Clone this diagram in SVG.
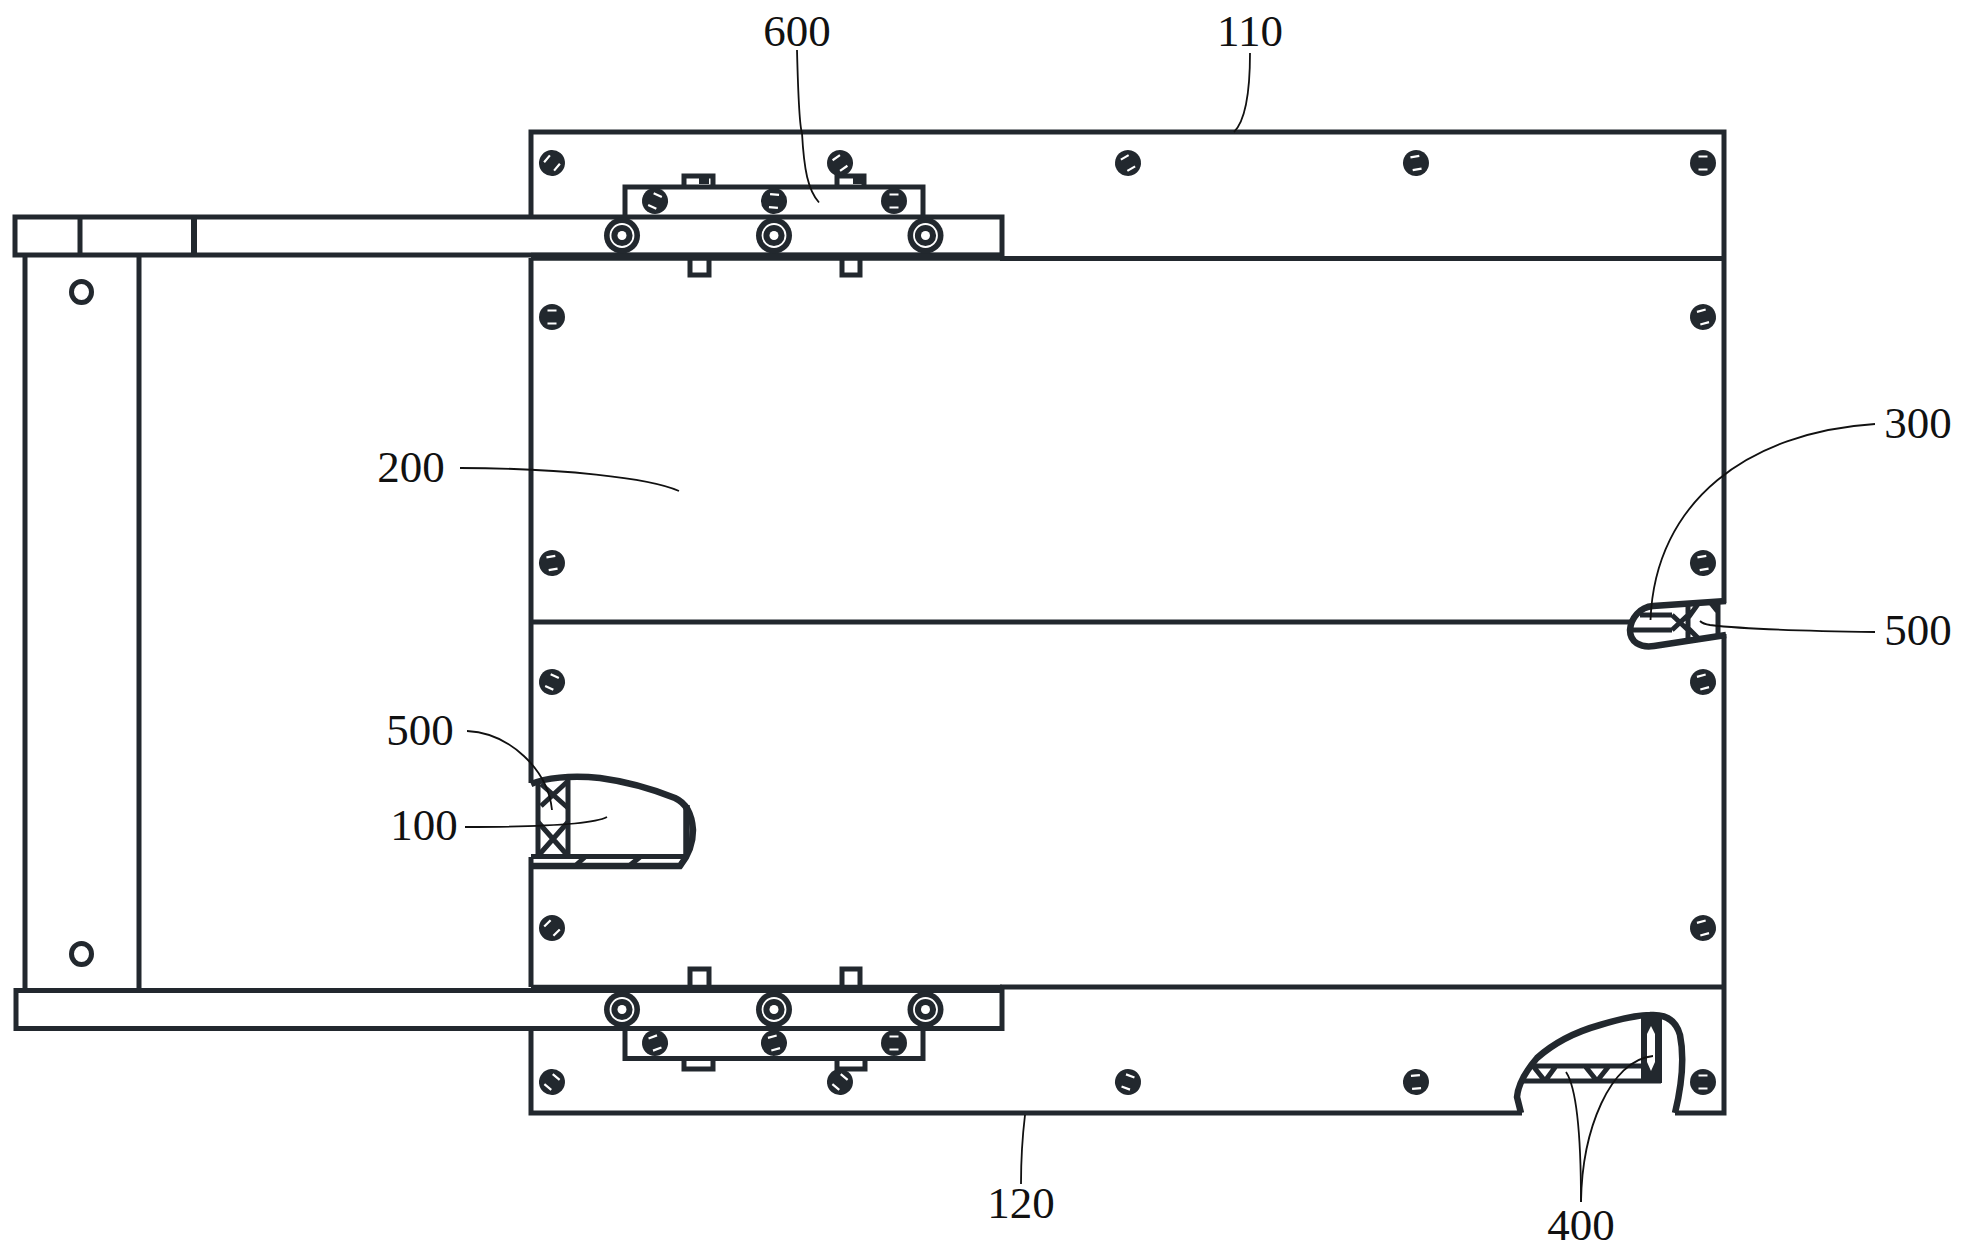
<svg xmlns="http://www.w3.org/2000/svg" width="1965" height="1254" viewBox="0 0 1965 1254">
<style>
.l{fill:none;stroke:#22282e;stroke-width:5}
.o{fill:none;stroke:#22282e;stroke-width:6.500}
.t{fill:none;stroke:#22282e;stroke-width:8}
.k{fill:none;stroke:#111;stroke-width:1.800}
.n{font-family:"Liberation Serif",serif;font-size:45px;fill:#111;text-anchor:middle}
</style>
<defs>
<g id="screw"><circle r="13" fill="#22282e"/><path d="M-4.500-6.500H4.500M-4.500 6.500H4.500" stroke="#fff" stroke-width="2.200" fill="none"/></g>
<g id="roller"><circle r="18" fill="#22282e"/><circle r="11.500" fill="none" stroke="#fff" stroke-width="1.800"/><circle r="4.500" fill="#fff"/></g>
</defs>
<rect width="1965" height="1254" fill="#fff"/>
<g id="plates">
<path class="l" d="M531 217V132H1724V603M531 258V783M1724 634V1113H1675M1522 1113H531V1028M531 857V987"/>
<path class="l" d="M1000 258.500H1724M1000 987H1724"/>
<path class="t" d="M531 256.700H1002M531 988.800H1002"/>
<path class="l" d="M531 622H1632"/>
</g>
<g id="rail-top"><path class="l" d="M15 217H1002V255H15ZM80 217V255"/><path class="l" style="stroke-width:6" d="M194 217V255"/></g>
<g id="rail-bottom"><path class="l" d="M16 990.500H1002V1028.500H16Z"/></g>
<g id="frame"><path class="l" d="M25 255V990M139 255V990"/>
<ellipse class="l" cx="81.500" cy="292" rx="10" ry="10.500"/><ellipse class="l" cx="81.500" cy="954" rx="10" ry="10.500"/></g>
<g id="carriage-top"><path class="l" d="M625 217V187H923V217M684 187V176H713V187M837 187V176H864V187"/>
<path class="l" d="M690 258V275H709V258M842 258V275H860V258"/>
<rect x="699" y="178" width="10" height="6" fill="#22282e"/><rect x="853" y="176" width="12" height="8" fill="#22282e"/></g>
<g id="carriage-bottom"><path class="l" d="M625 1028V1058.500H923V1028M684 1058V1069H713V1058M837 1058V1069H865V1058"/>
<path class="l" d="M690 988V969H709V988M842 988V969H860V988"/></g>
<g id="screws">
<use href="#screw" transform="translate(552 163) rotate(-50)"/>
<use href="#screw" transform="translate(840 163) rotate(-35)"/>
<use href="#screw" transform="translate(1128 163) rotate(-30)"/>
<use href="#screw" transform="translate(1416 163) rotate(-10)"/>
<use href="#screw" transform="translate(1703 163) rotate(0)"/>
<use href="#screw" transform="translate(552 317) rotate(0)"/>
<use href="#screw" transform="translate(1703 317) rotate(-15)"/>
<use href="#screw" transform="translate(552 563) rotate(-10)"/>
<use href="#screw" transform="translate(1703 563) rotate(-10)"/>
<use href="#screw" transform="translate(552 682) rotate(25)"/>
<use href="#screw" transform="translate(1703 682) rotate(-15)"/>
<use href="#screw" transform="translate(552 928) rotate(-45)"/>
<use href="#screw" transform="translate(1703 928) rotate(-15)"/>
<use href="#screw" transform="translate(552 1082) rotate(40)"/>
<use href="#screw" transform="translate(840 1082) rotate(40)"/>
<use href="#screw" transform="translate(1128 1082) rotate(20)"/>
<use href="#screw" transform="translate(1416 1082) rotate(-5)"/>
<use href="#screw" transform="translate(1703 1082) rotate(0)"/>
<use href="#screw" transform="translate(655 201) rotate(25)"/>
<use href="#screw" transform="translate(774 201) rotate(5)"/>
<use href="#screw" transform="translate(894 201) rotate(0)"/>
<use href="#screw" transform="translate(655 1043) rotate(-20)"/>
<use href="#screw" transform="translate(774 1043) rotate(-15)"/>
<use href="#screw" transform="translate(894 1043) rotate(0)"/>
</g>
<g id="rollers">
<use href="#roller" x="622" y="235.500"/><use href="#roller" x="774" y="235.500"/><use href="#roller" x="925.500" y="235.500"/>
<use href="#roller" x="622" y="1009.500"/><use href="#roller" x="774" y="1009.500"/><use href="#roller" x="925.500" y="1009.500"/>
</g>
<g id="part-100">
<path class="o" d="M531 784C545 778 570 775 600 778C630 782 660 792 675 798C686 803 692 815 693 830C693 845 688 856 680 866H533"/>
<path class="l" d="M531 856.500H686M538 783V856M568 779V856"/>
<path class="o" d="M686.500 805V856"/>
<path class="l" d="M538 856L568 822M538 822L568 856M541 784L568 808M568 781L541 806M575 866L585 857M629 866L640 857"/>
</g>
<g id="part-300-500">
<path class="o" d="M1726 601L1653 606C1640 607 1631 618 1630 630C1630 642 1640 648 1654 646L1726 635"/>
<path class="l" d="M1718 601V635M1688 603V641M1640 615H1672M1630 630H1672M1672 615L1688 630M1672 630L1688 615M1688 618L1698 604M1688 628L1698 638M1710 602L1718 612"/>
</g>
<g id="part-400">
<path class="o" d="M1521 1113L1517 1097C1518 1085 1525 1072 1537 1058C1555 1042 1575 1032 1600 1025C1620 1019 1635 1015 1650 1015C1665 1014 1676 1020 1680 1035C1684 1055 1683 1080 1675 1113"/>
<path class="l" d="M1533 1066H1643M1522 1081H1661M1533 1066L1545 1081M1556 1066L1545 1081M1585 1066L1597 1081M1609 1066L1597 1081"/>
<path fill="#22282e" fill-rule="evenodd" d="M1641 1013H1662V1083H1641ZM1647 1034V1062L1651 1071L1655 1062V1034L1651 1026Z"/>
</g>
<g id="connectors">
<path class="k" d="M797 50C798 90 799 125 802 133C804 170 808 190 819 202.500"/>
<path class="k" d="M1250 53C1250 90 1246 120 1234 132"/>
<path class="k" d="M460 468C560 468 650 478 679 491"/>
<path class="k" d="M1875 424C1750 432 1655 500 1650.500 620"/>
<path class="k" d="M1875 632C1800 631 1735 628 1710 625Q1703 624 1700 621"/>
<path class="k" d="M467 731C510 733 548 770 552 810"/>
<path class="k" d="M465 827C520 827 590 826 607 817"/>
<path class="k" d="M1025 1115C1022 1140 1021 1165 1021 1184"/>
<path class="k" d="M1581 1202C1581 1150 1578 1090 1566 1072"/>
<path class="k" d="M1581 1202C1582 1130 1610 1060 1653 1056"/>
</g>
<g id="labels">
<text class="n" x="797" y="46">600</text>
<text class="n" x="1250" y="46">110</text>
<text class="n" x="411" y="482">200</text>
<text class="n" x="1918" y="438">300</text>
<text class="n" x="1918" y="645">500</text>
<text class="n" x="420" y="745">500</text>
<text class="n" x="424" y="840">100</text>
<text class="n" x="1021" y="1218">120</text>
<text class="n" x="1581" y="1240">400</text>
</g>
</svg>
